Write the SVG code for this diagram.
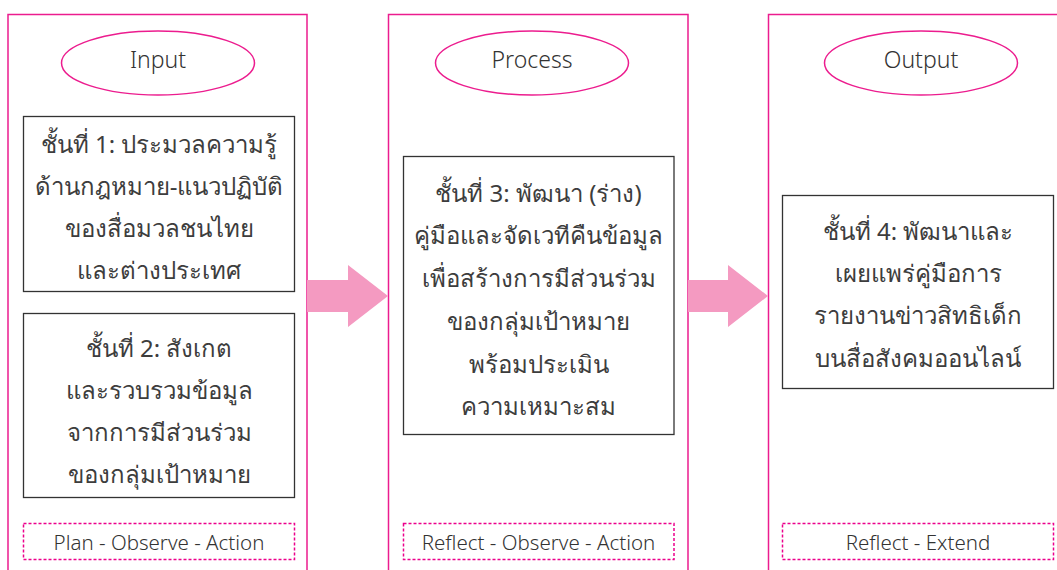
<svg xmlns="http://www.w3.org/2000/svg" width="1057" height="570" viewBox="0 0 1057 570">
<style>
.frame{fill:none;stroke:#ec1c8e;stroke-width:1.5}
.ell{fill:#fff;stroke:#ec1c8e;stroke-width:1.5}
.box{fill:#fff;stroke:#333;stroke-width:1.3}
.dash{fill:#fff;stroke:#ec008c;stroke-width:1.5;stroke-dasharray:3 2}
.arrow{fill:#f49ac1}
text{font-family:"Noto Sans","Open Sans","Liberation Sans",sans-serif;fill:#333;text-anchor:middle}
.t{font-size:24px;font-weight:400;fill:#3d3d3d}
.h{font-size:23px;font-weight:300}
.s{font-size:20.5px;font-weight:300}
</style>
<rect width="1057" height="570" fill="#fff"/>
<g id="col-input">
<path class="frame" d="M8,575 V14.5 H307 V575"/>
<ellipse class="ell" cx="158" cy="63" rx="96.5" ry="32"/>
<text class="h" x="158" y="68">Input</text>
</g>
<g id="col-process">
<path class="frame" d="M388.5,575 V14.5 H688 V575"/>
<ellipse class="ell" cx="532" cy="63" rx="96.5" ry="32"/>
<text class="h" x="532" y="68">Process</text>
</g>
<g id="col-output">
<path class="frame" d="M768.5,575 V14.5 H1060"/>
<ellipse class="ell" cx="921" cy="63" rx="96.5" ry="32"/>
<text class="h" x="921" y="68">Output</text>
</g>
<g id="connectors">
<polygon class="arrow" points="307,280 348,280 348,265 388,296 348,327 348,312 307,312"/>
<polygon class="arrow" points="688,280 728,280 728,265 768,296 728,327 728,312 688,312"/>
</g>
<g id="step1">
<rect class="box" x="23.5" y="116.5" width="271" height="175"/>
<text class="t" x="159" y="153">ชั้นที่ 1: ประมวลความรู้</text>
<text class="t" x="159" y="195">ด้านกฎหมาย-แนวปฏิบัติ</text>
<text class="t" x="159" y="237">ของสื่อมวลชนไทย</text>
<text class="t" x="159" y="279">และต่างประเทศ</text>
</g>
<g id="step2">
<rect class="box" x="23.5" y="313.5" width="271" height="184"/>
<text class="t" x="159" y="357">ชั้นที่ 2: สังเกต</text>
<text class="t" x="159" y="399">และรวบรวมข้อมูล</text>
<text class="t" x="159" y="441">จากการมีส่วนร่วม</text>
<text class="t" x="159" y="483">ของกลุ่มเป้าหมาย</text>
</g>
<g id="label1">
<rect class="dash" x="23.5" y="523.5" width="271" height="36"/>
<text class="s" x="159" y="550">Plan - Observe - Action</text>
</g>
<g id="step3">
<rect class="box" x="403.5" y="156.5" width="270.5" height="278"/>
<text class="t" x="538.5" y="202">ชั้นที่ 3: พัฒนา (ร่าง)</text>
<text class="t" x="538.5" y="244">คู่มือและจัดเวทีคืนข้อมูล</text>
<text class="t" x="538.5" y="287">เพื่อสร้างการมีส่วนร่วม</text>
<text class="t" x="538.5" y="330">ของกลุ่มเป้าหมาย</text>
<text class="t" x="538.5" y="373">พร้อมประเมิน</text>
<text class="t" x="538.5" y="415">ความเหมาะสม</text>
</g>
<g id="label2">
<rect class="dash" x="403.5" y="523.5" width="270.5" height="36"/>
<text class="s" x="538.5" y="550">Reflect - Observe - Action</text>
</g>
<g id="step4">
<rect class="box" x="782.5" y="195.5" width="271" height="193"/>
<text class="t" x="918" y="240">ชั้นที่ 4: พัฒนาและ</text>
<text class="t" x="918" y="282">เผยแพร่คู่มือการ</text>
<text class="t" x="918" y="324">รายงานข่าวสิทธิเด็ก</text>
<text class="t" x="918" y="367">บนสื่อสังคมออนไลน์</text>
</g>
<g id="label3">
<rect class="dash" x="782.5" y="523.5" width="271" height="36"/>
<text class="s" x="918" y="550">Reflect - Extend</text>
</g>
</svg>
